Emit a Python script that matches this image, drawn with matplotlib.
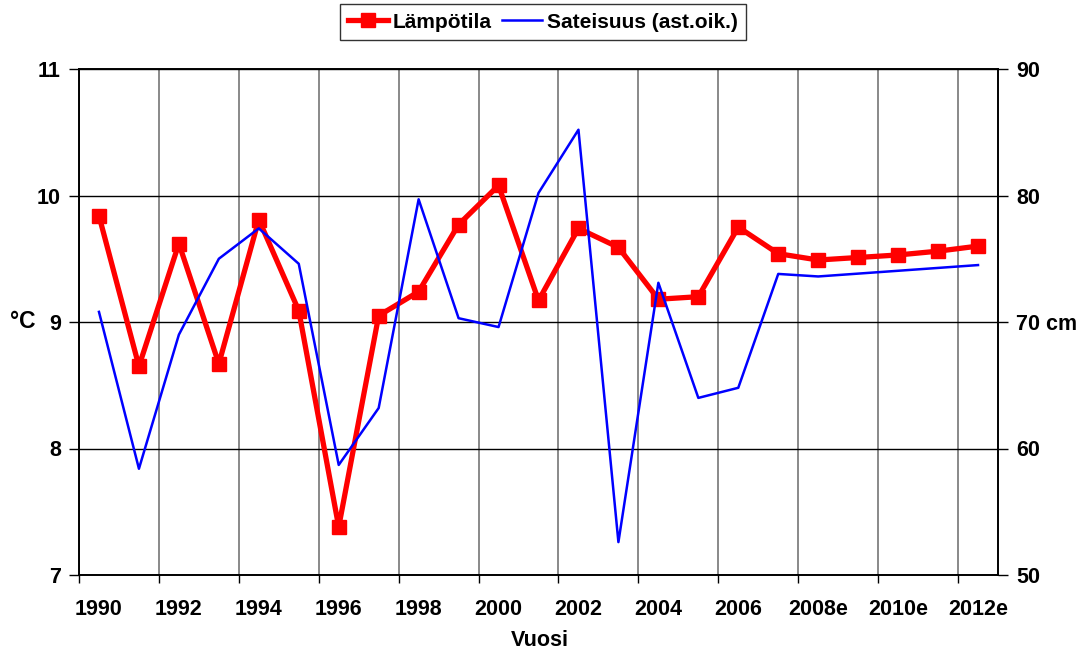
import numpy as np
import matplotlib
matplotlib.use("Agg")
import matplotlib.pyplot as plt
from matplotlib.ticker import FixedLocator, NullFormatter

plt.rcParams['font.family'] = ['Liberation Sans', 'DejaVu Sans']
plt.rcParams['font.weight'] = 'bold'

years = ["1990", "1991", "1992", "1993", "1994", "1995", "1996", "1997", "1998",
         "1999", "2000", "2001", "2002", "2003", "2004", "2005", "2006", "2007",
         "2008e", "2009e", "2010e", "2011e", "2012e"]
temperature = [9.84, 8.65, 9.62, 8.67, 9.81, 9.09, 7.38, 9.05, 9.24, 9.77, 10.08,
               9.17, 9.74, 9.59, 9.18, 9.20, 9.75, 9.54, 9.49, 9.51, 9.53, 9.56, 9.60]
precipitation = [70.8, 58.4, 69.0, 75.0, 77.4, 74.6, 58.7, 63.2, 79.7, 70.3, 69.6,
                 80.2, 85.2, 52.6, 73.1, 64.0, 64.8, 73.8, 73.6, np.nan, np.nan, np.nan, 74.5]
left_ticks = [7, 8, 9, 10, 11]
right_ticks = [50, 60, 70, 80, 90]
right_labels = ["50", "60", "70 cm", "80", "90"]

W, H = 1082, 653
FS = 15.5
fig = plt.figure(figsize=(W / 100, H / 100), dpi=100)
ax = fig.add_axes([79 / W, 1 - 575 / H, (998 - 79) / W, (575 - 69) / H])
ax2 = ax.twinx()

x = np.arange(len(years))
prec = np.array(precipitation, dtype=float)
mask = ~np.isnan(prec)

l1, = ax.plot(x, temperature, color='#ff0000', lw=3.8, marker='s', ms=10,
              markeredgecolor='#ff0000', zorder=3, label='Lämpötila')
l2, = ax2.plot(x[mask], prec[mask], color='#0000ff', lw=1.8, zorder=3,
               label='Sateisuus (ast.oik.)')

ax.set_xlim(-0.5, len(years) - 0.5)
ax.set_ylim(7, 11)
ax2.set_ylim(50, 90)

ax.set_yticks(left_ticks)
ax.yaxis.grid(True, color='#000000', lw=1.0)
bounds = np.arange(-0.5, len(years) - 0.5, 2)
ax.xaxis.set_major_locator(FixedLocator(bounds))
ax.xaxis.set_major_formatter(NullFormatter())
ax.xaxis.grid(True, which='major', color='#808080', lw=1.3)
ax.set_axisbelow(True)
lab_pos = x[::2]
ax.set_xticks(lab_pos, minor=True)
ax.set_xticklabels([years[i] for i in lab_pos], minor=True)
ax.tick_params(axis='x', which='minor', length=0, pad=17, labelsize=FS)
ax.tick_params(axis='x', which='major', length=6, width=1, direction='out', color='#000000')

ax.tick_params(axis='y', length=7, width=1, direction='out', pad=6, labelsize=FS)
ax2.set_yticks(right_ticks)
ax2.set_yticklabels(right_labels)
ax2.tick_params(axis='y', length=7, width=1, direction='out', pad=6, labelsize=FS)

for a in (ax, ax2):
    for s in a.spines.values():
        s.set_color('#000000')
        s.set_linewidth(1.2)

fig.text(540 / W, 1 - 640 / H, 'Vuosi', fontsize=FS, fontweight='bold', ha='center', va='center')
fig.text(23 / W, 1 - 322 / H, '°C', fontsize=FS + 1, fontweight='bold', ha='center', va='center')

leg = fig.legend(handles=[l1, l2], loc='center', bbox_to_anchor=(543 / W, 1 - 22 / H),
                 ncol=2, frameon=True, fancybox=False, fontsize=15, handlelength=1.9,
                 handletextpad=0.25, columnspacing=0.5, borderpad=0.4, borderaxespad=0,
                 numpoints=1)
leg.get_frame().set_edgecolor('#000000')
leg.get_frame().set_linewidth(1.0)
for t in leg.get_texts():
    t.set_fontweight('bold')

fig.savefig('out.png', dpi=100, facecolor='white')
